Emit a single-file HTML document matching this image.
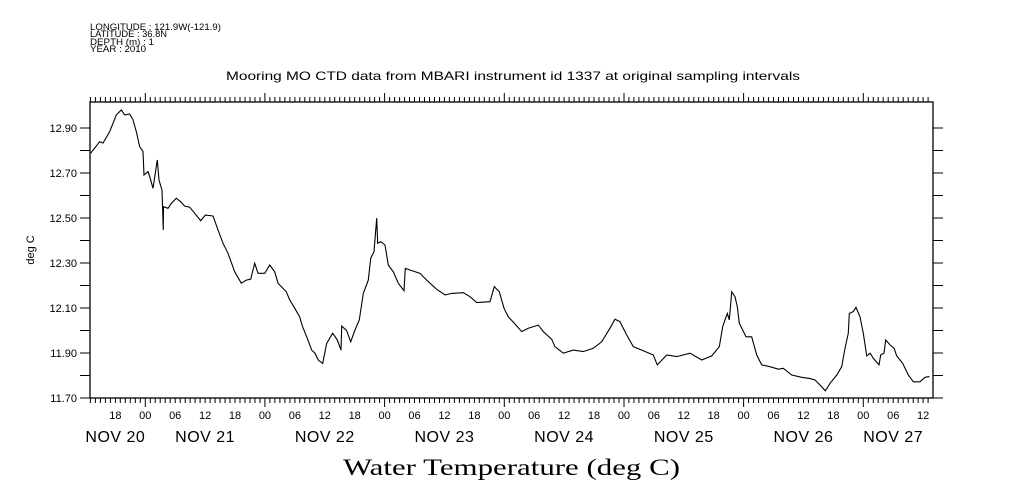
<!DOCTYPE html>
<html><head><meta charset="utf-8"><style>
html,body{margin:0;padding:0;background:#fff;}
svg{display:block;}
</style></head><body>
<svg id="chart" width="1009" height="504" viewBox="0 0 1009 504" xmlns="http://www.w3.org/2000/svg" font-family="Liberation Sans, sans-serif">
<g font-size="9" fill="#000">
<text x="90" y="30" textLength="131" lengthAdjust="spacingAndGlyphs">LONGITUDE : 121.9W(-121.9)</text>
<text x="90" y="37" textLength="77" lengthAdjust="spacingAndGlyphs">LATITUDE : 36.8N</text>
<text x="90" y="45" textLength="64" lengthAdjust="spacingAndGlyphs">DEPTH (m) : 1</text>
<text x="90" y="52" textLength="56" lengthAdjust="spacingAndGlyphs">YEAR : 2010</text>
</g>
<text x="226" y="80" textLength="574" lengthAdjust="spacingAndGlyphs" font-size="12">Mooring MO CTD data from MBARI instrument id 1337 at original sampling intervals</text>
<text transform="translate(34,250) rotate(-90)" text-anchor="middle" font-size="11">deg C</text>
<text x="343" y="475" textLength="337" lengthAdjust="spacingAndGlyphs" font-family="Liberation Serif, serif" font-size="23">Water Temperature (deg C)</text>
<g id="axes"></g>
<g id="series"></g>
</svg>
<script>
const times=[13.06,14.86,15.53,16.87,18.19,19.19,19.88,20.88,21.54,22.20,22.88,23.55,23.75,24.55,24.89,25.55,26.41,26.75,27.36,27.62,27.66,28.56,29.22,30.22,31.11,31.91,32.91,33.91,35.12,36.04,37.58,38.59,39.59,40.59,41.94,43.26,44.26,45.15,45.95,46.61,47.95,48.96,49.96,50.62,52.29,52.97,53.97,54.97,55.49,56.38,57.38,58.04,58.70,59.59,60.39,61.59,62.51,63.26,63.40,64.40,65.20,66.06,66.93,67.73,68.73,69.21,69.87,70.42,70.62,71.22,72.08,72.74,73.74,74.75,75.89,76.15,77.10,79.10,80.44,82.45,84.11,85.46,87.78,89.13,90.47,93.14,94.00,95.01,95.95,96.81,98.01,99.50,100.82,102.83,103.83,105.51,106.17,107.84,109.84,111.85,113.85,115.54,117.21,118.21,119.21,120.56,121.88,123.88,125.89,126.69,128.58,130.58,133.25,135.60,137.60,139.13,139.81,140.27,140.73,141.13,141.61,142.28,142.74,143.14,143.82,144.48,145.63,146.63,147.63,149.29,150.96,151.96,153.65,155.65,157.32,158.32,159.32,160.39,161.33,162.68,163.68,164.34,165.00,165.20,166.00,166.54,167.35,168.01,168.69,169.36,170.02,171.16,171.50,172.16,172.50,173.36,174.17,174.71,175.91,177.03,178.04,179.38,180.38,181.25];
const temps=[12.788,12.839,12.833,12.884,12.958,12.980,12.958,12.962,12.936,12.884,12.817,12.795,12.691,12.706,12.684,12.632,12.758,12.669,12.624,12.447,12.550,12.543,12.565,12.588,12.572,12.553,12.548,12.521,12.488,12.513,12.509,12.447,12.388,12.343,12.261,12.210,12.224,12.228,12.299,12.254,12.254,12.291,12.261,12.210,12.172,12.136,12.099,12.061,12.020,11.972,11.913,11.899,11.869,11.854,11.943,11.988,11.958,11.913,12.020,11.999,11.950,12.002,12.047,12.165,12.224,12.321,12.350,12.499,12.388,12.395,12.380,12.291,12.261,12.210,12.177,12.276,12.269,12.254,12.224,12.183,12.158,12.165,12.168,12.150,12.124,12.128,12.195,12.172,12.099,12.061,12.032,11.995,12.010,12.024,11.995,11.961,11.928,11.899,11.913,11.906,11.921,11.950,12.010,12.050,12.039,11.980,11.928,11.910,11.891,11.847,11.891,11.884,11.899,11.869,11.887,11.928,12.017,12.047,12.076,12.047,12.172,12.150,12.106,12.032,12.002,11.972,11.972,11.891,11.847,11.839,11.828,11.832,11.802,11.792,11.786,11.780,11.758,11.732,11.765,11.802,11.839,11.921,11.988,12.076,12.084,12.103,12.061,11.988,11.887,11.899,11.876,11.847,11.891,11.899,11.958,11.936,11.921,11.887,11.854,11.802,11.772,11.772,11.792,11.795];
const yTicks=[11.70,11.90,12.10,12.30,12.50,12.70,12.90];
const yMinor=[11.80,12.00,12.20,12.40,12.60,12.80];
const hourLabels=["18","00","06","12","18","00","06","12","18","00","06","12","18","00","06","12","18","00","06","12","18","00","06","12","18","00","06","12"];
const dayLabels=["NOV 20","NOV 21","NOV 22","NOV 23","NOV 24","NOV 25","NOV 26","NOV 27"];
const dayLabelHours=[18,36,60,84,108,132,156,174];

const L=90,R=933,T=102,B=398;
const xOf=h=>25.6+h*119.67/24;
const yOf=v=>398-(v-11.70)*225;
const NS="http://www.w3.org/2000/svg";
const axes=document.getElementById('axes');
function mk(tag,attrs,parent){const e=document.createElementNS(NS,tag);for(const k in attrs)e.setAttribute(k,attrs[k]);parent.appendChild(e);return e;}

const frame=mk('rect',{x:L,y:T,width:R-L,height:B-T,fill:'none',stroke:'#000','stroke-width':1.3},axes);



let d='';
for(let h=13;h<=182;h++){const x=xOf(h);if(x<L||x>R)continue;const big=(h%24===0);
 d+=`M${x.toFixed(1)},${B}V${B+(big?9:5)}M${x.toFixed(1)},${T}V${T-(big?9:5)}`;}
yTicks.concat(yMinor).forEach(v=>{const y=yOf(v);d+=`M${L-10},${y}H${L}M${R},${y}H${R+10}`;});
const tk=mk('path',{d:d,stroke:'#000','stroke-width':1,fill:'none'},axes);



yTicks.forEach(v=>{const t=mk('text',{x:L-13,y:yOf(v)+4,'text-anchor':'end','font-size':11},axes);t.textContent=v.toFixed(2);
 
 });
hourLabels.forEach((s,i)=>{const h=18+i*6;const t=mk('text',{x:xOf(h),y:419,'text-anchor':'middle','font-size':11},axes);t.textContent=s;
 
 });
dayLabels.forEach((s,i)=>{const t=mk('text',{x:xOf(dayLabelHours[i]),y:442,'text-anchor':'middle','font-size':16,'letter-spacing':'0.5'},axes);t.textContent=s;
 
 });

const pts=times.map((h,i)=>xOf(h).toFixed(1)+','+yOf(temps[i]).toFixed(1)).join(' ');
const line=mk('polyline',{points:pts,fill:'none',stroke:'#000','stroke-width':1.1},document.getElementById('series'));


</script>
</body></html>
